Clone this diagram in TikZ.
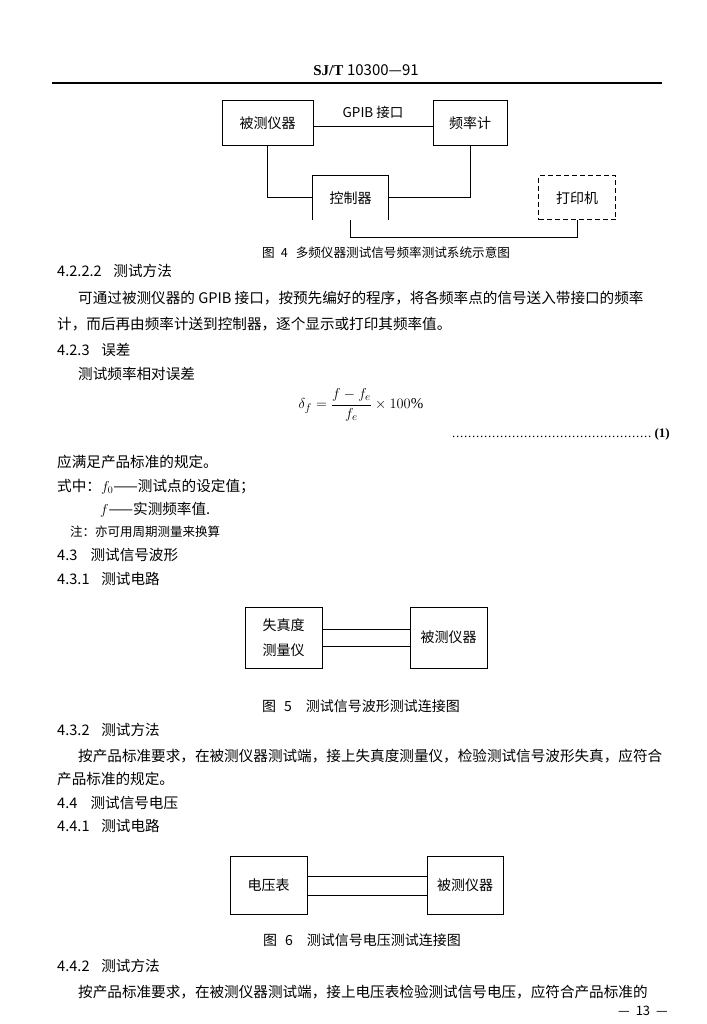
\documentclass[tikz,border=0pt]{standalone}
\usepackage{fontspec}
\setmainfont{Liberation Serif}
\newfontfamily\cjk{Noto Sans CJK SC}
\XeTeXlinebreaklocale "zh"
\XeTeXlinebreakskip=0pt plus 4pt
\tikzset{
  every node/.style={inner sep=0pt},
  body/.style={anchor=west, font=\cjk\fontsize{14.6}{18}\selectfont},
  jbody/.style={body, text width=#1, align=justify},
  note/.style={anchor=west, font=\cjk\fontsize{12.5}{15}\selectfont},
  cap/.style={anchor=west, text width=#1, align=justify},
  boxlabel/.style={font=\cjk\fontsize{14}{25}\selectfont},
  devbox/.style={draw, line width=1pt, boxlabel},
  wire/.style={line width=1pt},
}
\begin{document}
\begin{tikzpicture}[x=1pt,y=-1pt]
\useasboundingbox (0,0) rectangle (706,1024);
\fill[white] (0,0) rectangle (706,1024);

% header
\node[font=\fontsize{15}{18}\selectfont] (hdr) at (366,70) {\textbf{SJ/T} {\cjk 10300—91}};
\coordinate (rl) at (52,83);
\coordinate (rr) at (662,83);
\draw[line width=1.4pt] (rl) -- (rr);

% Figure 4
\node[devbox, minimum width=91pt, minimum height=45pt] (dut) at (267.5,123.5) {被测仪器};
\node[devbox, minimum width=74pt, minimum height=45pt] (cnt) at (470,123.5) {频率计};
\node[boxlabel, minimum width=75pt, minimum height=44pt] (ctl) at (350.5,198) {控制器};
\node[devbox, dash pattern=on 5pt off 3pt, minimum width=77pt, minimum height=44pt] (prn) at (577,198) {打印机};
\draw[wire] (ctl.south west) -- (ctl.north west) -- (ctl.north east) -- (ctl.south east);
\draw[wire] ([yshift=-3pt]dut.east) -- node[above=7pt, font=\cjk\fontsize{13.5}{16}\selectfont] (gpib) {GPIB 接口} ([yshift=-3pt]cnt.west);
\draw[wire] (dut.south) |- (ctl.west);
\draw[wire] (cnt.south) |- (ctl.east);
\draw[wire] (ctl.south) -- ++(0,17) -| (prn.south);
\node[cap=254pt, font=\cjk\fontsize{12.6}{15}\selectfont] (cap4) at (262,253) {\parfillskip=0pt\noindent 图\hspace{6pt}4\hspace{8pt}多频仪器测试信号频率测试系统示意图};

% text block 1
\node[body] (h1) at (57,271) {4.2.2.2\hspace{0.8em}测试方法};
\node[jbody=590pt] (p1) at (78,298) {\parfillskip=0pt\noindent 可通过被测仪器的 GPIB 接口，按预先编好的程序，将各频率点的信号送入带接口的频率};
\node[body] (p1b) at (57,324) {计，而后再由频率计送到控制器，逐个显示或打印其频率值。};
\node[body] (h2) at (57,350) {4.2.3\hspace{0.8em}误差};
\node[body] (p2) at (78,374) {测试频率相对误差};
\node[font=\fontsize{15}{18}\selectfont] (eq) at (361,405) {$\displaystyle\delta_f=\frac{f-f_e}{f_e}\times 100\%$};
\node[anchor=east, font=\fontsize{13}{15}\selectfont] (eqno) at (670,434) {\hbox to 218pt{\leaders\hbox to 4pt{\hss.\hss}\hfill\textbf{(1)}}};
\node[body] (p3) at (57,462) {应满足产品标准的规定。};
\node[body] (p4) at (57,487) {式中：$f_0$——测试点的设定值；};
\node[body] (p5) at (100,510) {$f$——实测频率值.};
\node[note] (n1) at (70,532) {注：亦可用周期测量来换算};
\node[body] (h3) at (57,555) {4.3\hspace{0.9em}测试信号波形};
\node[body] (h4) at (57,579) {4.3.1\hspace{0.8em}测试电路};

% Figure 5
\node[devbox, align=center, minimum width=77pt, minimum height=61pt] (dist) at (283.5,637.5) {失真度\\测量仪};
\node[devbox, minimum width=77pt, minimum height=61pt] (dut5) at (448.5,637.5) {被测仪器};
\draw[wire] ([yshift=8pt]dist.east) -- ([yshift=8pt]dut5.west);
\draw[wire] ([yshift=-8.5pt]dist.east) -- ([yshift=-8.5pt]dut5.west);
\node[cap=208pt, font=\cjk\fontsize{14}{17}\selectfont] (cap5) at (262,706) {\parfillskip=0pt\noindent 图\hspace{8pt}5\hspace{14pt}测试信号波形测试连接图};

% text block 2
\node[body] (h5) at (57,730) {4.3.2\hspace{0.8em}测试方法};
\node[jbody=590pt] (p6) at (78,756) {\parfillskip=0pt\noindent 按产品标准要求，在被测仪器测试端，接上失真度测量仪，检验测试信号波形失真，应符合};
\node[body] (p6b) at (57,779) {产品标准的规定。};
\node[body] (h6) at (57,803) {4.4\hspace{0.9em}测试信号电压};
\node[body] (h7) at (57,826) {4.4.1\hspace{0.8em}测试电路};

% Figure 6
\node[devbox, minimum width=77pt, minimum height=58pt] (vm) at (268.5,885) {电压表};
\node[devbox, minimum width=76pt, minimum height=58pt] (dut6) at (465,885) {被测仪器};
\draw[wire] ([yshift=9pt]vm.east) -- ([yshift=9pt]dut6.west);
\draw[wire] ([yshift=-10pt]vm.east) -- ([yshift=-10pt]dut6.west);
\node[cap=206pt, font=\cjk\fontsize{14}{17}\selectfont] (cap6) at (263,940) {\parfillskip=0pt\noindent 图\hspace{8pt}6\hspace{14pt}测试信号电压测试连接图};

% text block 3
\node[body] (h8) at (57,966) {4.4.2\hspace{0.8em}测试方法};
\node[jbody=590pt] (p7) at (78,992) {\parfillskip=0pt\noindent 按产品标准要求，在被测仪器测试端，接上电压表检验测试信号电压，应符合产品标准的};
\node[anchor=east, font=\cjk\fontsize{13}{15}\selectfont] (pg) at (668,1011) {—\hspace{6pt}13\hspace{6pt}—};
\end{tikzpicture}
\end{document}
